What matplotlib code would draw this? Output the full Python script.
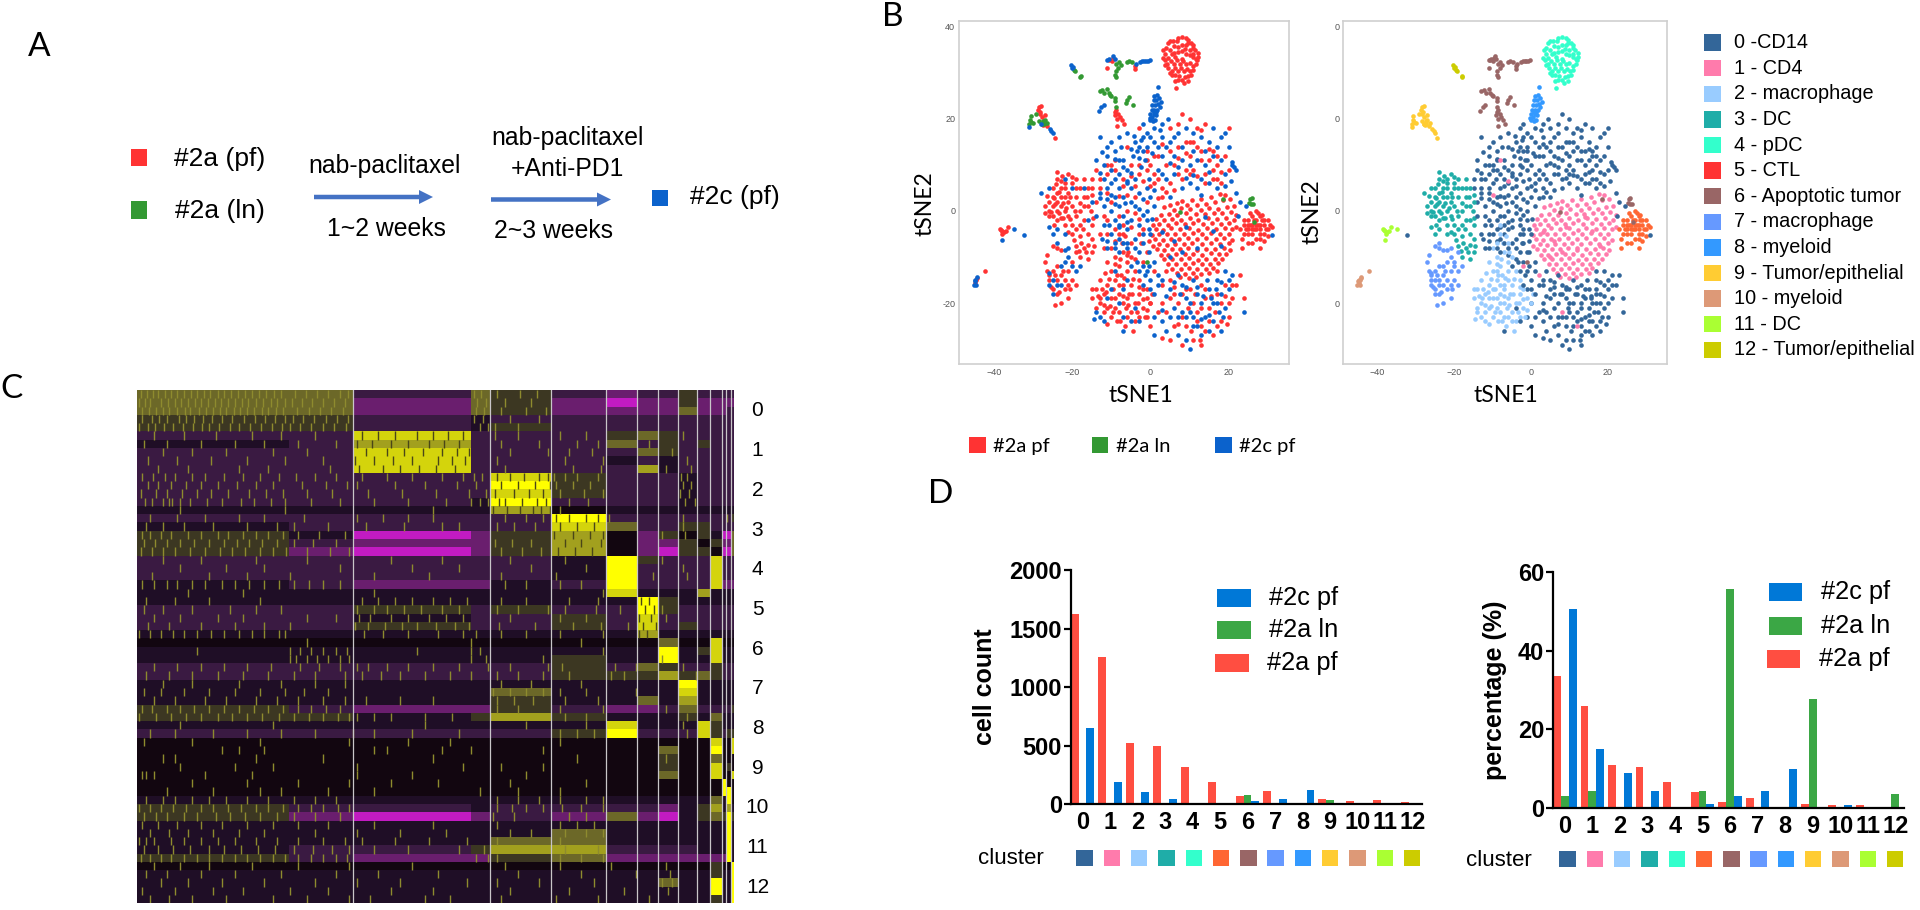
import matplotlib
matplotlib.use("Agg")
import numpy as np
import matplotlib.pyplot as plt
from matplotlib.colors import ListedColormap, BoundaryNorm
from matplotlib.patches import Rectangle, FancyArrow

W, H = 1920, 910
ARIAL = "Liberation Sans"
CAL = "Lato"

# ---- cluster names / colours
cluster_ids = list(range(13))
legend_names = ["0 -CD14", "1 - CD4", "2 - macrophage", "3 - DC", "4 - pDC", "5 - CTL",
                "6 - Apoptotic tumor", "7 - macrophage", "8 - myeloid", "9 - Tumor/epithelial",
                "10 - myeloid", "11 - DC", "12 - Tumor/epithelial"]
cluster_colors = ["#336699", "#FF7BAC", "#99CCFF", "#1FADA8", "#33FFCC", "#FF6633", "#996666",
                  "#6699FF", "#3399FF", "#FFCC33", "#DD9977", "#AAFF33", "#CCCC00"]
legend_colors = list(cluster_colors)
legend_colors[5] = "#FF3333"
sample_colors = {"pf": "#FF3333", "ln": "#339933", "c": "#0B62CC"}

# ---- bar values
count_pf = [1625, 1255, 520, 500, 316, 188, 74, 117, 0, 43, 31, 37, 17]
count_ln = [4, 6, 0, 0, 0, 6, 80, 0, 0, 37, 0, 0, 5]
count_c = [650, 188, 108, 48, 0, 10, 31, 48, 120, 2, 5, 0, 0]
pct_pf = [33.6, 25.9, 10.8, 10.3, 6.5, 3.9, 1.5, 2.5, 0, 0.9, 0.6, 0.7, 0.3]
pct_ln = [3.1, 4.3, 0, 0, 0, 4.3, 55.8, 0, 0, 27.8, 0, 0, 3.6]
pct_c = [50.6, 15, 8.9, 4.2, 0, 0.9, 3.1, 4.2, 9.9, 0.2, 0.6, 0.1, 0.1]

# ---- tSNE points (thinned)
c0_c = [(-4,15),(-3,14),(-3.5,13),(-2.5,15.5),(-4.5,12),(-3,11.5),(-2,13),(-1,17),(1,18),(3,19),(4.5,20),(-1,14),(1,15),(3,16),
        (-6,17),(-8,16),(-10,15),(-13,16),(-11,12),(-9,13),(-7,11),(-6,9),(-8,8),(-10,9),(-12,10),(-12,7),(-10,6),(-8,5),(-6,6),
        (-4,7),(-5,5),(-3,4),(-1,5),(-2,2.5),(-7,3),(-9,3),(-11,2.5),(-12,1),(-10,0),(-8,1),(-5,2),(-3,0.5),(0,3),(1,1),(-1,0),
        (-13,4),(-14,-1),(-12,-3),(-9,-2),(-7,-1),(-5,-2),(-3,-3),(-1,-2),(-10,-5),(-8,-6),(-6,-4),(-4,-6),(-2,-7),(0,-5),(-0.5,-9),
        (1,-11),(-3,-9),(-6,-8),(-8,-9),(-11,-8),(2,9),(4,7),(6,8),(5,3),(8,5),(10,6),(12,5),(13,3.5),(15,6),(3,12),(5,15),(7,17),
        (9,18),(11,17),(13,16),(15,15),(16,18),(18,16),(20,14),(21,10),(21.5,9.5),(20.8,10.7),(22,9),(19,8),(18,11),(16,12),(14,10),
        (11,13),(8,11),(6,12),(22,4),(23,2),(24.5,1),(22.5,-1),(-3,-13),(-1.5,-14),(-2,-16),(0,-15),(1,-18),(3,-15),(5,-17),(6,-21),
        (7,-14),(8,-16),(9,-19),(11,-15),(10,-22),(11,-25),(12,-18),(13,-20),(14,-23),(15,-17),(16,-20),(16,-24),(17,-15),(17.5,-22),
        (18,-18),(19,-13),(19,-21),(20,-17),(21,-14),(3,-24),(1,-27),(4,-26),(7,-27),(9,-28),(10,-30),(13,-27),(15,-26),(18,-26),
        (24,-22),(-4,-21),(-7,-26),(-3,-24),(-32.3,-5.2),(31,-5.2),
        (-2,16),(-4.2,16.3),(-5,13.5),(-1.5,11),(0.5,12.5),(2,14),(-7.5,14),(-9,11.3),(-11,14),(-12.5,12.8),(-14,11),(-13,8.3),(-9.2,7),(-7,9.6),
        (-5,8.2),(-2.5,9.5),(-0.5,7),(1,4.5),(3,8),(5,10.5),(7,9.5),(9,7.2),(11,7.8),(13,7),(15,8.5),(17,5),(19,5.5),(20.5,6.5),(17,14),(19,17),
        (14,13),(12,11),(10,10),(8,14),(6,16),(4,14),(2.5,17.5),(0,16),(-2,19),(-11,5),(-13,2.8),(-9,1.5),(-6.5,1.8),(-4,1),(-2,-0.8),(0.3,-1.7),
        (-6,-2.5),(-8,-3.5),(-10.5,-3),(-12.5,-6),(-11,-6.5),(-9,-8),(-7,-7),(-4,-8),(-2,-5),(-0.5,-4),(-3.5,-11),(-5,-12),(-0.5,-12),
        (2,-16),(4,-18.5),(6,-15.5),(7.5,-18),(9,-16.5),(10,-20),(12,-16.5),(13.5,-18.5),(14.5,-15),(15.5,-19),(16.8,-17),(18,-15.5),(17,-20),
        (15,-22.5),(13,-23.5),(18.5,-23),(20,-15),(11,-23),(9,-23),(7,-23),(5,-23),(3,-21.5),(1,-23),(-1,-13),(0,-17)]
c0_pf = [(2,12),(4,10),(6,10),(7,14),(9,15),(10,12),(12,14),(13,11),(11,9),(9,9),(7,8),(5,6),(3,5),(1,8),(-1,9),(-3,8),(-5,10),
         (-9,11),(-11,8),(-14,9),(-15,7),(-13,5),(-11,4),(-7,5.5),(14,8),(16,9),(17,7),(18,6),(12,18),(14,19),(10,20),(8,21),(16,13),
         (19,12),(20,18),(-6,0),(-4,-0.5),(-2,-4),(-7,-3),(-9,-4),(-11,-2),(-13,-5),(-5,-7),(-3,-5),(-1,-9),(-2,-11),(4,-13),(5,-15),
         (6,-18),(7,-20),(8,-18),(8,-23),(9,-25),(10,-17),(11,-20),(12,-22),(12,-24),(13,-16),(13,-25),(14,-19),(15,-21),(15,-24),
         (16,-27),(17,-18),(18,-20),(18,-24),(19,-16),(20,-20),(17,-13),(21,-19),(6,-25),(3,-20),(2,-22),(0,-20),(5,-28),(11,-28),
         (13,-29),(12.8,-28),(-1,-17),(1,-13),(22,-16),(23,-14),(24,-19),(-1,11),(1,6),(3,3),(-4,3),(-8,-1),(-10,10),(-6,14),(-3,18),
         (5,18),(7,19),(10,15),(13,13),(15,11),(17,10),
         (0,10),(2,7),(4,4.2),(6,4.5),(8,7),(10,8),(12,7.5),(14,6),(16,7),(18,8.5),(20,9),(17,12),(15,13.5),(11,15),(13,17.5),(9,12.5),(7,11.5),
         (5,13),(3,14.5),(1,12),(-1,13),(-3,10),(-5,7.5),(-7,7),(-9,9),(-11,10),(-13,7),(-15,5),(-14,2),(-10,2),(-12,-1),(-8,3.2),(-6,3.5),(-4,5.5),
         (-2,6.5),(0,5.5),(2,2.8),(-1,2),(-3,-1.8),(-5,-3.5),(-7,-5),(-9,-6.5),(-11,-5),(-6,-9.5),(-4,-10.5),(-2.5,-7),(-0.5,-6.5),(-12,-8),
         (3,-16),(5,-19),(4,-22),(6,-16.5),(7,-24.5),(9,-17),(9.5,-21),(10.5,-26),(11.5,-18),(13,-21),(14,-17),(14,-26),(15.5,-18.5),(16.5,-22),
         (17,-25),(19,-18.5),(20,-23),(21,-16),(19.5,-24.5),(8,-29),(3,-27.5),(0,-25),(-1,-23)]
c1_pf = [(17.7,3.7),(19,3.5),(15.5,3),(13,2.6),(10.6,2.4),(8,2.2),(18.5,2.4),(20.4,2.6),(16.5,1.9),(14.2,1.6),(12,1.4),(9.4,1.3),(6.8,1.7),(5,1.3),
         (3.4,0.8),(5.9,0.3),(7.8,0.6),(10.2,0.4),(12.9,0.2),(15,0.7),(17.4,0.5),(19.5,0.9),(21.3,1),(20.6,-0.2),(18.4,-0.5),(16.2,-0.4),(13.9,-0.7),(11.6,-0.6),(9,-0.5),(6.9,-0.8),(4.7,-0.7),(2.6,-0.9),(22,-0.8),
         (1.5,-1.8),(3.5,-2),(5.6,-1.7),(7.8,-1.9),(10,-1.6),(12.3,-1.9),(14.7,-1.6),(17,-1.8),(19.3,-1.6),(21.4,-1.9),(20.2,-2.6),(18.1,-2.8),(15.8,-2.6),(13.4,-2.9),(11,-2.7),(8.9,-2.9),(6.6,-2.7),(4.5,-3),(2.3,-2.9),(0.7,-3),
         (1.4,-4),(3.3,-4.1),(5.3,-3.8),(7.5,-4),(9.8,-3.8),(12.1,-4.1),(14.4,-3.8),(16.8,-4),(19,-3.8),(21,-4),(22,-3.5),(20,-4.9),(17.9,-5),(15.6,-4.8),(13.2,-5),(10.9,-4.8),(8.6,-5),(6.3,-4.9),(4.2,-5.1),(2.2,-5),(0.4,-5.2),
         (1.2,-6),(3.2,-6.2),(5.3,-6),(7.4,-6.1),(9.6,-5.9),(11.9,-6.1),(14.3,-5.9),(16.7,-6.1),(18.9,-5.9),(21,-6.2),(20,-7),(17.8,-7.1),(15.4,-7),(13.1,-7.2),(10.7,-7),(8.5,-7.2),(6.3,-7.1),(4.2,-7.3),(2.3,-7.2),(0.6,-7.5),
         (1.6,-8.3),(3.4,-8.4),(5.4,-8.2),(7.5,-8.3),(9.7,-8.1),(12,-8.4),(14.3,-8.2),(16.6,-8.3),(18.8,-8.1),(20.4,-8.5),(19.4,-9.3),(17.5,-9.4),(15.4,-9.2),(13.2,-9.5),(11,-9.3),(8.8,-9.4),(6.5,-9.3),(4.4,-9.5),(2.6,-9.6),
         (3.4,-10.4),(5.5,-10.4),(7.7,-10.5),(9.9,-10.3),(12.1,-10.6),(14.3,-10.4),(16.5,-10.5),(18.4,-10.4),(17.4,-11.4),(15.3,-11.5),(13.2,-11.6),(11,-11.4),(8.8,-11.6),(6.6,-11.5),(4.6,-11.6),
         (5.6,-12.5),(7.7,-12.6),(9.9,-12.4),(12,-12.7),(14.2,-12.6),(16,-12.4),(15,-13.4),(12.9,-13.6),(10.9,-13.5),(8.9,-13.6),(6.8,-13.5),(9.8,-14.6),(11.7,-14.4),(7.6,-14.3)]
c1_c = [(3,-4.6),(9,-3.4),(12,-8),(18,-7.6),(16,-4.4),(8,-9),(5,-10),(6,-6.5),(14,-1.2),(-6,6.5),(-10,3.5),(2,-14),(-2,-12),(8,-22),(12,-25),(-8,11)]
c2_pf = [(-12,-18),(-11,-16),(-10,-19),(-9,-15),(-8,-18),(-7,-16),(-6,-13),(-6,-19),(-5,-16),(-4,-20),(-3,-18),(-2,-21),(-1,-19),(0,-20),
         (-13,-20),(-12,-22),(-11,-21),(-10,-23),(-9,-21),(-8,-22),(-7,-20),(-6,-23),(-5,-22),(-4,-24),(-13,-15),(-14,-17),(-8,-12),(-7,-9),
         (-9,-10),(-10,-8),(-6,-11),(-5,-10),(-4,-13),(-8,-5),(-10,-13),(-11,-11),(-3,-15),(-14,-21),(-15,-19),(-12.5,-17),(-9.5,-17),(-7.5,-14),
         (-5.5,-18),(-3.5,-22),(-1.5,-23),(-8.5,-24),(-11,-24.5),(-6.5,-25),(-4.5,-26),(-2,-17),
         (-12.8,-19),(-11.3,-17.7),(-10.4,-20.6),(-9,-18.8),(-8,-16),(-7,-18.5),(-6.2,-21),(-4.8,-18),(-3.2,-20),(-2,-19.2),(-1,-21.5),(0.5,-18),
         (-11.7,-13.5),(-9,-11.5),(-7.8,-10.5),(-5.8,-9),(-7.2,-7),(-6.5,-5.5),(-4.5,-14.7),(-8.6,-14),(-6.8,-14.5),(-3,-16.5),(-12,-20.5),(-9.5,-22),
         (-7.7,-24),(-5.7,-20.5),(-3,-23),(-13.5,-18.5),(-15,-17),(-10.5,-14.8)]
c2_c = [(-14,-22),(-13,-23),(-12,-24),(-14.5,-23.5),(-10,-17),(-9,-13),(-7,-17),(-6,-15),(-11,-19),(-8,-20),(-5,-24),(-7,-23),(-9,-7),(-6,-7),(-8,-3)]
c3_pf = [(-26,0),(-25,1),(-24,0),(-25,-1),(-26,2),(-24,2),(-23,1),(-22,0),(-25,3),(-23,3),(-24,4),(-22,3),(-25,5),(-23,5),(-21,4),(-24,7),
         (-23,6.5),(-22,6),(-20,6),(-21,2),(-20,1),(-19,3),(-18,5),(-17,3),(-19,-1),(-21,-1),(-23,-1.5),(-24,-2),(-26,-1),(-27,1),(-27,-0.5),
         (-18,0),(-17,-2),(-16,1),(-20,-3),(-18,-3),(-22,-3),(-16,5),(-15,-3),(-19,7),(-24,8.5),(-21,8),(-17,7),(-20,-5),(-18,-5.5),(-16,-5),
         (-15,-6),(-19,-7.5),(-17,-8),(-15,-9),(-16,-10.5),(-18,-10),
         (-25.5,-0.2),(-24.5,1.5),(-23.5,-0.5),(-22.5,1.8),(-21.5,0.7),(-26.5,3.2),(-24.7,2.9),(-23.3,4.2),(-21.8,4.9),(-20.5,3),(-24.3,5.8),(-22.7,7.6),
         (-20.2,7.3),(-19,5),(-18,1.8),(-19.3,0),(-20.6,-1.8),(-22.5,-1.6),(-24.8,-3),(-17,1),(-16.3,3),(-15,3.5),(-15.2,0),(-17.3,-4),(-19,-4),(-21,-4.5),
         (-19.7,-6.2),(-17.7,-7),(-16,-7.3),(-18.3,-8.7),(-14.8,-1.5),(-14.5,-7.5),(-16.5,-9)]
c3_c = [(-28,4),(-26,5),(-26,-3.5),(-25,-5),(-22,-5),(-17,5),(-15,2),(-16,-2),(-20,5),(-22,7),(-24,-4)]
c4_pf = [(5,37),(7,37.5),(9,37.5),(10.5,36.5),(4,35.5),(6,35.8),(8,36),(10,35),(11.5,35),(3.8,34),(5.4,34),(7,34.5),(9,34),(10.8,33.5),(12.3,33.5),
         (3.6,32.7),(5.2,32.6),(6.8,32.8),(8.4,32.5),(10,32.2),(11.7,32),(4.6,31),(6.2,31),(7.8,31),(9.4,30.8),(11,30.6),(5.5,29.5),(7.2,29.3),
         (8.8,29.2),(10.3,29.5),(6.2,28.3),(8.6,27.8),(9.6,28.2),(6.8,36.9),(8.8,35.2),(6.4,33.5),(8,33.1),(5,30),(7,28.5),(4.4,33.2),(9.7,36.4),(11,34),(6.6,26.7),
         (5.8,37),(8,37.8),(4.5,36.5),(9.7,37.2),(11,36),(3.3,35),(5,35),(7,35.7),(9,36),(11,35.5),(12.2,34.3),(3.2,33.3),(6,34.4),(8,34.8),(10,33.8),(11.7,33),
         (4.3,32),(6,32),(7.6,32),(9.2,32),(11,31.5),(3.8,31.6),(5.4,30.3),(7,30.3),(8.6,30.3),(10.2,30.5),(6.3,29.5),(8,28.5),(9.5,29.3),(12,32.8)]
c5_pf = [(24,-3),(25,-2),(26,-1),(27,-2),(28,-3),(29,-3),(30,-4),(29,-2),(27,-4),(26,-3),(25,-4),(28,-5),(26,-5),(24,-5),(27,-6),(29,-5),(30,-2),(31,-3.4),
         (27,0),(28,-1),(25,-7),(28,-8),(23.5,-8),(25,-3),(28,-4),(26,-4),
         (24.5,-4),(25.5,-3),(26.5,-2),(27.5,-3),(28.5,-2),(29.5,-4),(30.5,-3),(27,-3),(25,-5),(26.5,-4),(28,-6),(29,-6.5),(26,-7),(24,-2),(23,-4),(23.5,-6),
         (30,-5.5),(27.5,-0.5),(25.5,-0.5),(28.5,-0.8)]
c6_pf = [(-9,21.5),(-8.7,22),(-8.2,21),(-9.2,20.8),(-7.8,20.5),(-7.3,19.8),(-6.8,19),(-8.5,20),(-11,31),(-10.7,32.8),(-9.7,33.2),(-9.9,32.6),(-4,31.5),(-4,30.8),(-8.5,18.5)]
c6_ln = [(-8.7,32),(-8.2,31),(-8.9,30.5),(-8,32.3),(-7.5,31.8),(-6,32.3),(-5.5,32.5),(-4.8,32.4),(-9,29.5),(-8.7,29),(-13,26),(-12.3,26.2),(-11.8,25.7),
         (-11,26.4),(-10.7,25.6),(-10.3,25.3),(-10,25),(-9,24.5),(-9,23.8),(-8.8,22.5),(-5.9,24),(-5.5,24.7),(-6.2,23.4),(-4.5,23),(25.5,2.5),(25.8,1.6),
         (26.2,1.5),(25.2,1.7),(25.9,2.8),(18.5,2.7),(7.5,-0.2),(-1,-11),(26.5,-2.3)]
c6_c = [(-11,32.8),(-10.5,33.1),(-9.5,33.6),(-9.2,33),(-2.7,32.4),(-2.2,32.5),(-1.7,32.6),(-1.2,32.6),(-0.7,32.6),(-0.2,32.8),(-3.8,32),(-12.6,22.5),(-13.3,21.7),(-12,23)]
c7_pf = [(-27,-11),(-26.5,-13),(-26,-15),(-25,-13),(-24,-15),(-23,-14),(-24,-12),(-25,-17),(-24,-18),(-22,-17),(-23,-20),(-21,-13),(-20,-15),(-19,-16),
         (-21,-19),(-24.5,-20.5),(-20,-11),(-19,-9),(-23,-8.5),(-24,-8),(-25,-7.5),(-26,-14),(-25.5,-16.5),(-24.5,-14),(-23.5,-17.5),(-22,-15),(-21,-16),(-22.5,-13),(-26.5,-9.5),(-20.5,-17)]
c7_c = [(-26,-16),(-25,-15),(-24,-16),(-23,-16),(-26,-13.5),(-25,-18),(-23,-12),(-22,-11),(-20,-12),(-18,-12),(-19,-13),(-21,-10),(-22,-8.5),(-24,-7),(-21,-8)]
c8_c = [(0,21),(0.5,20.5),(1,21),(1.5,20.8),(0.3,22),(1,22),(1.8,22),(2.4,22.5),(0.5,23),(1.2,23),(2,23.3),(2.8,23.6),(0.8,24),(1.5,24),(2.2,24.5),(1,25),
        (1.8,25.2),(2,27),(0,19.8),(0.7,19.5),(-0.2,20.2),(1.2,19.7),(1.4,21.5),(0.8,21.5)]
c9_pf = [(-28.5,22.5),(-28.8,22),(-28.2,21.6),(-28,22.8),(-28.4,21),(-27.8,20.5),(-27,20.9),(-27.6,18.7),(-26.5,18.4),(-24.4,15.9)]
c9_ln = [(-31,19),(-30.9,19.8),(-30.7,20.7),(-30.5,19.3),(-30,19.2),(-27.5,19.5),(-27.8,19),(-27,19.8),(-27.3,18.8),(-26.4,19.1),(-29.2,21),(-28.5,19.6)]
c9_c = [(-31,18.3),(-25.7,17.9),(-25.4,17.3),(-25,17),(-28,18.8)]
c10_pf = [(-42.3,-13.1),(-44.6,-15),(-44.3,-14.6),(-44.9,-15.6)]
c10_c = [(-45,-15.3),(-44.6,-16),(-44.8,-15),(-44.4,-14.4),(-45.3,-16)]
c11_pf = [(-38.3,-4.2),(-38,-4.4),(-37.6,-4.6),(-37.1,-4.3),(-37.9,-5),(-38.5,-3.9),(-36.6,-3.4)]
c11_c = [(-35,-3.9),(-38,-6.2)]
c12_ln = [(-19.5,30.7),(-19.2,30.3),(-18,29.2),(-17.9,29.4)]
c12_c = [(-20.3,31.6),(-20,31),(-19.8,31.2)]

tsne_groups = [(0, "pf", c0_pf), (1, "pf", c1_pf), (2, "pf", c2_pf), (3, "pf", c3_pf), (4, "pf", c4_pf), (5, "pf", c5_pf),
               (6, "pf", c6_pf), (7, "pf", c7_pf), (9, "pf", c9_pf), (10, "pf", c10_pf), (11, "pf", c11_pf),
               (6, "ln", c6_ln), (9, "ln", c9_ln), (12, "ln", c12_ln),
               (0, "c", c0_c), (1, "c", c1_c), (2, "c", c2_c), (3, "c", c3_c), (6, "c", c6_c), (7, "c", c7_c),
               (8, "c", c8_c), (9, "c", c9_c), (10, "c", c10_c), (11, "c", c11_c), (12, "c", c12_c)]

# ---- heatmap: one string per gene row, one digit per cell block
heat_widths = [359, 150, 280, 45, 145, 128, 74, 50, 48, 45, 29, 28, 11, 12, 7]
heat_rows = [
    "662652122522222", "661651011511111", "661651111611122", "552322222222222", "552352222222222",
    "228222565222222", "327222625252222", "228222265222222", "228222323222222", "228222273222222",
    "222285222322222", "222295222322222", "222285222322222", "222392222322222", "333374333333333",
    "222229222222225", "322228622552222", "530157415453006", "521157411545116", "510157410554006",
    "222223952228222", "222223922228222", "222223922228222", "321132922228111", "333333833373333",
    "333333395333333", "225252295222222", "223225282222222", "225225282522222", "333333373333333",
    "444444446448444", "333333339358333", "333335339338333", "222225265225222", "222225557565222",
    "333333333933333", "333363333833333", "333353363733333", "521152112622225", "553575333536333",
    "333333833385333", "222225922285255",
    "444444444448448", "444444446449448", "444444445446444", "444444445448454", "444444446448448",
    "444444444444944", "444444444444994", "333333333336394", "522322221357373", "510121610356595",
    "333333333333393", "333336333333393", "333366333333393", "322577222233393", "521156111111193",
    "444444444445449", "333333333335339", "333333336339339", "333333333339339", "333333333335339",
]
heat_palette = ["#C21BC2", "#6A1E6E", "#3A1A42", "#1F0E26", "#120610", "#3C3722", "#6C6828", "#A2A01E", "#D4D40C", "#FFFF00"]
heat_labels = [str(i) for i in cluster_ids]
# thin bright stripes per gene row, position along the cell axis
heat_stripes = [
    [8,22,37,49,66,80,93,110,128,141,158,172,190,205,221,238,255,270,288,305,322,340,372,398,425,450,478,497,795,812,850,905,945],
    [5,18,30,55,72,88,104,119,137,150,168,183,199,214,232,248,262,281,296,315,331,350,365,390,412,440,466,490,802,825,870,930],
    [12,27,44,60,76,95,112,125,146,163,178,195,210,228,243,260,276,294,310,327,345,378,405,432,459,487,800,820,860,920,965],
    [10,34,52,70,98,116,134,155,176,201,224,252,279,301,325,349,368,392,418,445,471,499,795,818,880,950],
    [3,25,41,63,85,108,131,152,170,193,218,240,266,292,318,342,362,385,410,438,464,493,810,828,845,900],
    [40,110,185,270,340,420,845,900,1000,1060,1290],
    [15,70,150,230,300,380,470,860,950,1040,1090,1210],
    [60,130,210,320,400,880,970,1020,1075,1265],
    [25,95,175,260,350,440,850,1010,1100,1300],
    [50,120,240,310,455,870,1030,1095,1250,1310],
    [12,38,65,90,130,160,205,250,290,335,375,420,470,530,590,650,720,770,795,815,985,1010,1040,1090,1285,1300],
    [25,50,80,115,150,190,235,280,320,390,445,495,520,610,680,755,800,990,1030,1070,1290,1310],
    [8,45,70,105,140,175,215,265,305,345,400,460,545,625,705,785,825,1000,1055,1100,1282,1305],
    [18,35,60,75,82,100,125,165,200,245,275,315,350,410,480,560,640,730,790,810,830,1020,1065,1295,1318],
    [100,350,700,1000],
    [30,95,160,240,300,395,520,580,640,700,870,920,960,1115,1290,1395],
    [20,60,110,180,260,330,370,450,540,630,720,760,850,890,940,1290],
    [10,30,55,80,120,150,190,215,250,280,310,345,380,430,490,1240,1295],
    [15,42,70,100,135,170,205,235,265,295,330,370,415,470,845,885,930],
    [8,35,60,90,125,160,195,225,255,290,320,352,400,455,500,860,910,955],
    [60,150,280,400,600,720,880,1010,1240],
    [100,210,300,480,650,760,930,1060,1290],
    [35,170,260,360,560,690,860,990,1220,1300],
    [10,40,70,95,130,160,200,230,265,300,335,370,405,440,480,870,920,1000,1050],
    [120,250,560,1100],
    [20,90,170,290,530,570,610,650,700,740,780,860,920,1020,1090],
    [15,60,130,220,280,340,520,560,590,630,670,720,760,850,900,970,1010,1085,1140,1240],
    [40,100,190,250,400,470,525,550,600,640,690,730,770,880,1000,1060,1250],
    [25,75,150,230,300,360,515,545,585,625,660,705,750,785,855,940,1030,1095,1160],
    [5,30,55,85,110,140,175,205,240,270,300,335,350,535,580,640,710,770,800,860,920,1000,1100],
    [400,790,1050],
    [140,360,385,410,440,470,495,660,790,810,1100],
    [360,375,400,425,450,480,500,790,825,960,1240],
    [40,95,150,205,260,315,385,430,480,520,545,590,640,700,760,830,880,970,1005,1130,1180,1290],
    [20,75,130,190,250,310,370,420,490,530,575,620,680,740,790,850,900,960,1020,1120,1150,1320],
    [60,130,240,340,420,490,860,930,1050],
    [15,55,110,170,230,290,350,395,450,840,880,920,960,1000,1060,1180],
    [40,90,160,210,280,330,380,440,490,540,620,700,850,890,935,1010,1090],
    [10,35,70,100,135,170,205,240,275,310,345,380,410,445,480,850,900,1000,1100,1250],
    [5,45,80,115,150,190,225,260,295,335,370,405,440,475,500,520,560,600,680,745,1010,1060,1300],
    [100,320,680,920,1060,1290],
    [30,90,180,260,340,420,510,560,650,760,1000,1040,1080,1300],
    [15,130,290,500,640,740,1000],
    [200,240,300,560,590,720,790,960],
    [60,90,280,440,700,1040,1250],
    [100,230,320,520,770,860,960],
    [10,20,40,160,270,520,650,920],
    [130,260,380,500,600,710,880,1060],
    [70,180,290,340,450,560,810,900,1000],
    [20,60,90,130,170,210,260,310,370,420,470,850,900,950,1000,1060,1100],
    [5,30,55,85,115,150,180,215,245,280,310,345,380,410,440,475,500,850,885,920,960,1005,1050,1100],
    [15,45,70,110,140,185,220,255,290,330,370,420,480,840,890,1020,1060],
    [10,50,95,150,200,260,320,380,450,560,700,850,1000,1040,1080],
    [30,75,120,180,240,300,420,520,620,730,880,930,1010,1060,1100],
    [5,20,40,80,110,150,190,230,280,330,380,440,490,530,610,690,780,850,1000],
    [15,50,85,125,170,205,245,285,325,370,415,460,500,560,640,760,820,1010,1090],
    [8,30,55,80,110,140,170,200,230,260,290,320,350,380,410,440,470,495,800,830,850,1000,1050,1100],
    [40,100,170,270,380,500,650,870,1000,1120,1250],
    [20,70,150,230,340,470,570,710,900,1050,1180,1260],
    [55,120,200,300,420,520,620,780,850,950,1080,1240,1265],
    [10,90,180,250,360,450,600,700,880,1020,1150,1255],
    [30,75,130,210,320,400,500,550,680,740,860,990,1090,1210],
]
# dark gaps inside the brightest blocks: (row, positions)
heat_gaps = [(5,[530,570,610,660,700,735,770]), (6,[520,555,600,640,690,725,760]), (7,[540,590,630,675,720,755,785]),
             (8,[515,560,605,650,710,745,775]), (9,[525,580,620,665,705,750]),
             (10,[850,880,915,950,970]), (11,[860,900,940,975]), (12,[845,890,925,960]), (13,[855,870,910,945,965]),
             (14,[840,875,905,935,955,975]),
             (15,[990,1020,1060,1090]), (16,[1000,1040,1080]), (17,[985,1030,1070,1100]), (18,[1010,1050,1095]), (19,[995,1035,1075]),
             (25,[1190,1210]), (26,[1200,1222]), (27,[1187,1215]), (28,[1195,1225]), (29,[1185,1205])]

fig = plt.figure(figsize=(W / 100, H / 100), dpi=100, facecolor="white")


def ax_px(l, t, r, b, **kw):
    return fig.add_axes([l / W, 1 - b / H, (r - l) / W, (b - t) / H], **kw)


ov = ax_px(0, 0, W, H, zorder=10)
ov.set_xlim(0, W)
ov.set_ylim(H, 0)
ov.axis("off")
ov.patch.set_alpha(0)


def box(x0, y0, x1, y1, color):
    ov.add_patch(Rectangle((x0, y0), x1 - x0, y1 - y0, fc=color, ec="none"))


def label(x, y, s, size, family=ARIAL, ha="left", **kw):
    ov.text(x, y, s, fontsize=size, family=family, ha=ha, va="center", color=kw.pop("color", "black"), **kw)


# ---- panel letters
label(39, 47, "A", 24, CAL, ha="center")
label(893, 17, "B", 24, CAL, ha="center")
label(12, 389, "C", 24, CAL, ha="center")
label(941, 494, "D", 24, CAL, ha="center")

# ---- panel A
box(131, 149, 147, 166, "#FF3333")
box(131, 201, 147, 219, "#339933")
box(652, 190, 668, 206, "#0B62CC")
label(174, 159, "#2a (pf)", 19)
label(175, 211, "#2a (ln)", 19)
label(690, 197, "#2c (pf)", 19)
label(385, 166, "nab-paclitaxel", 17.8, ha="center")
label(568, 138, "nab-paclitaxel", 17.8, ha="center")
label(567, 169, "+Anti-PD1", 17.8, ha="center")
label(386, 229, "1~2 weeks", 17.8, ha="center")
label(554, 231, "2~3 weeks", 17.8, ha="center")
for xa, xb, ya in [(314, 433, 197), (491, 611, 199.5)]:
    ov.add_patch(FancyArrow(xa, ya, xb - xa, 0, width=4.5, head_width=14, head_length=14,
                            length_includes_head=True, color="#4472C4", lw=0))

# ---- panel B
XLIM, YLIM = (-49.1, 35.55), (-33.3, 41.2)


def tsne_ax(l, r, color_by_cluster, ylabels):
    ax = ax_px(l, 21.3, r, 364.3)
    ax.set_xlim(*XLIM)
    ax.set_ylim(*YLIM)
    for sp in ax.spines.values():
        sp.set_color("#CFCFCF")
        sp.set_linewidth(1.2)
    ax.set_xticks([-40, -20, 0, 20])
    ax.set_yticks([-20, 0, 20, 40])
    ax.set_yticklabels(ylabels)
    ax.tick_params(length=0, labelsize=6.5, labelcolor="#555555", pad=2.5)
    for lab in ax.get_xticklabels() + ax.get_yticklabels():
        lab.set_family(ARIAL)
    for cl, sample, pts in tsne_groups:
        arr = np.array(pts)
        col = cluster_colors[cl] if color_by_cluster else sample_colors[sample]
        ax.scatter(arr[:, 0], arr[:, 1], s=11, c=col, lw=0)
    return ax


tsne_ax(958.7, 1289.3, False, ["-20", "0", "20", "40"])
tsne_ax(1342.7, 1667.5, True, ["0", "0", "0", "0"])
label(1141, 396, "tSNE1", 16.5, CAL, ha="center")
label(1506, 396, "tSNE1", 16.5, CAL, ha="center")
label(925, 204, "tSNE2", 16.5, CAL, ha="center", rotation=90)
label(1312, 212, "tSNE2", 16.5, CAL, ha="center", rotation=90)
for i, (nm, col) in enumerate(zip(legend_names, legend_colors)):
    y0 = 34.3 + i * 25.6
    box(1704, y0, 1720.7, y0 + 16.4, col)
    label(1733.5, y0 + 8.4, nm, 14.3)
for x0, tx, nm, col in [(969.3, 993.3, "#2a pf", "#FF3333"), (1092, 1116, "#2a ln", "#339933"), (1215.3, 1239, "#2c pf", "#0B62CC")]:
    box(x0, 437, x0 + 16.4, 453.4, col)
    label(tx, 446.5, nm, 14.5, CAL)

# ---- panel C
hx = np.concatenate([[0], np.cumsum(heat_widths)])
hz = np.array([[int(ch) for ch in row] for row in heat_rows])
hax = ax_px(137.3, 390, 734.2, 903.3)
hax.pcolormesh(hx, np.arange(len(heat_rows) + 1), hz, cmap=ListedColormap(heat_palette),
               norm=BoundaryNorm(np.arange(-0.5, 10.5), 10), edgecolors="none")
for r, xs in enumerate(heat_stripes):
    hax.vlines(xs, r, r + 1, color="#8E8B2E", lw=1.0)
for r, xs in heat_gaps:
    hax.vlines(xs, r, r + 1, color="#4A4618", lw=1.0)
hax.set_xlim(hx[0], hx[-1])
hax.set_ylim(len(heat_rows), 0)
hax.axis("off")
for b in hx[[2, 4, 5, 6, 7, 8, 9, 10, 11, 12, 13, 14]]:
    hax.axvline(b, color="#C9C6C9", lw=0.9)
for i, s in enumerate(heat_labels):
    label(757.5, 411 + i * 39.67, s, 15, ha="center")

# ---- panel D
BAR_W = 0.285
BLUE, GREEN, RED = "#0078D7", "#3BA745", "#FF4E41"


def bars(l, t, r, b, pf, ln, c, ymax, yticks, ylab, ylx, yly):
    ax = ax_px(l, t, r, b)
    x = np.arange(13)
    ax.bar(x - BAR_W, pf, BAR_W, color=RED)
    ax.bar(x, ln, BAR_W, color=GREEN)
    ax.bar(x + BAR_W, c, BAR_W, color=BLUE)
    ax.set_xlim(-0.418, 12.33)
    ax.set_ylim(0, ymax)
    ax.patch.set_alpha(0)
    for s in ("top", "right"):
        ax.spines[s].set_visible(False)
    for s in ("left", "bottom"):
        ax.spines[s].set_linewidth(1.6)
    ax.set_xticks(x)
    ax.set_xticklabels(heat_labels)
    ax.set_yticks(yticks)
    ax.tick_params(axis="x", length=0, pad=5)
    ax.tick_params(axis="y", length=5, width=1.6, pad=1.5)
    for lab in ax.get_xticklabels() + ax.get_yticklabels():
        lab.set_family(ARIAL)
        lab.set_fontweight("bold")
        lab.set_fontsize(17)
    label(ylx, yly, ylab, 18, ha="center", rotation=90, fontweight="bold")
    return ax


bars(1071, 570, 1421.7, 804.3, count_pf, count_ln, count_c, 2000, [0, 500, 1000, 1500, 2000], "cell count", 985, 687)
bars(1553.3, 572.3, 1904.3, 807.7, pct_pf, pct_ln, pct_c, 60, [0, 20, 40, 60], "percentage (%)", 1495, 690)

for rect_x, txt_x, y0, nm, col in [(1217.3, 1269, 588.7, "#2c pf", BLUE), (1217.3, 1269, 621.3, "#2a ln", GREEN), (1215.3, 1267, 653.7, "#2a pf", RED),
                                   (1769, 1821, 582.5, "#2c pf", BLUE), (1769, 1821, 617, "#2a ln", GREEN), (1767, 1819, 650, "#2a pf", RED)]:
    box(rect_x, y0, rect_x + 33.3, y0 + 18, col)
    label(txt_x, y0 + 9, nm, 18.3)

for x0, y0, xt, yt in [(1076.3, 850, 977.7, 859), (1559.3, 851, 1465.7, 860)]:
    label(xt, yt, "cluster", 16)
    for i, col in enumerate(cluster_colors):
        xs = x0 + i * 27.3
        box(xs, y0, xs + 16.4, y0 + 16.4, col)

fig.savefig("out.png", dpi=100)
